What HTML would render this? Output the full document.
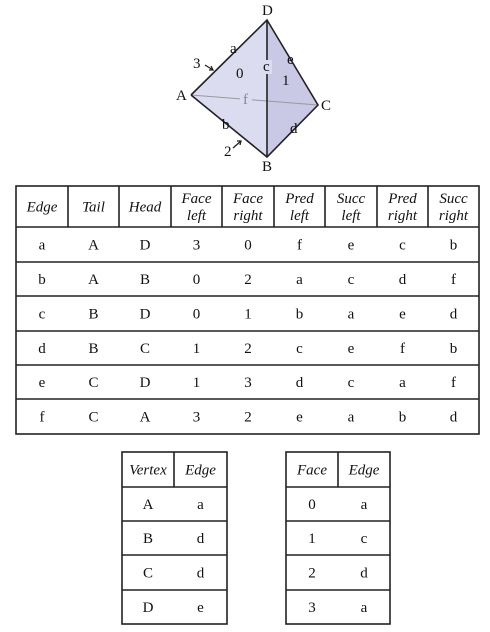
<!DOCTYPE html>
<html><head><meta charset="utf-8"><style>
html,body{margin:0;padding:0;background:#fff;width:490px;height:632px;overflow:hidden}
svg{display:block}
text{font-family:"Liberation Serif",serif;fill:#111}
.h{font-style:italic;font-size:15px}
.c{font-size:15px}
</style></head><body>
<svg width="490" height="632">
<g>
<polygon points="191,95 267,20 267,157" fill="#dcdcf0"/>
<polygon points="267,20 318,105 267,157" fill="#c9c9e6"/>
<line x1="191" y1="95" x2="318" y2="105" stroke="#999" stroke-width="1"/>
<polyline points="191,95 267,20 318,105 267,157 191,95" fill="none" stroke="#222" stroke-width="1.6"/>
<line x1="267" y1="20" x2="267" y2="157" stroke="#222" stroke-width="1.6"/>
<rect x="262" y="60" width="10" height="14" fill="#dcdcf0"/>
<rect x="240" y="93" width="12" height="13" fill="#dcdcf0"/>
<text x="262" y="15" class="c">D</text>
<text x="176" y="100" class="c">A</text>
<text x="321" y="110" class="c">C</text>
<text x="262" y="171" class="c">B</text>
<text x="230" y="53" class="c">a</text>
<text x="263" y="71" class="c">c</text>
<text x="287" y="64" class="c">e</text>
<text x="243" y="104" class="c" style="fill:#888">f</text>
<text x="222" y="129" class="c">b</text>
<text x="290" y="133" class="c">d</text>
<text x="236" y="78" class="c">0</text>
<text x="282" y="85" class="c">1</text>
<text x="193" y="68" class="c">3</text>
<text x="224" y="156" class="c">2</text>
<path d="M205,65 L213,70 M209,70 L213,70 L211,66" stroke="#222" fill="none" stroke-width="1.3"/>
<path d="M233,148 L241,141 M237,141 L241,141 L240,145" stroke="#222" fill="none" stroke-width="1.3"/>
</g>
<g id="main"></g>
<g id="vt"></g>
<g id="ft"></g>
</svg>
<script>
const NS="http://www.w3.org/2000/svg";
function el(p,t,a,txt){const e=document.createElementNS(NS,t);for(const k in a)e.setAttribute(k,a[k]);if(txt!==undefined)e.textContent=txt;p.appendChild(e);return e;}
function table(g,xs,ys,headers,rows){
  const x0=xs[0],x1=xs[xs.length-1],y0=ys[0],y1=ys[ys.length-1];
  el(g,'rect',{x:x0,y:y0,width:x1-x0,height:y1-y0,fill:'none',stroke:'#222','stroke-width':1.6});
  ys.slice(1,-1).forEach(y=>el(g,'line',{x1:x0,x2:x1,y1:y,y2:y,stroke:'#222','stroke-width':1.6}));
  xs.slice(1,-1).forEach(x=>el(g,'line',{x1:x,x2:x,y1:y0,y2:ys[1],stroke:'#222','stroke-width':1.6}));
  headers.forEach((h,i)=>{const cx=(xs[i]+xs[i+1])/2,cy=(ys[0]+ys[1])/2;
    const lines=h.split(' ');
    lines.forEach((l,j)=>{const t=el(g,'text',{x:cx,y:cy+5+(j-(lines.length-1)/2)*17,'text-anchor':'middle',class:'h'},l);
      
      });});
  rows.forEach((r,ri)=>r.forEach((v,i)=>{const cx=(xs[i]+xs[i+1])/2,cy=(ys[ri+1]+ys[ri+2])/2;
    const t=el(g,'text',{x:cx,y:cy+5,'text-anchor':'middle',class:'c'},v);
    
    }));
}
table(document.getElementById('main'),[16,68,119,171,222,274,325,377,428,479],[186,227,262,296,331,365,399,434],
 ['Edge','Tail','Head','Face left','Face right','Pred left','Succ left','Pred right','Succ right'],
 [['a','A','D','3','0','f','e','c','b'],['b','A','B','0','2','a','c','d','f'],['c','B','D','0','1','b','a','e','d'],
  ['d','B','C','1','2','c','e','f','b'],['e','C','D','1','3','d','c','a','f'],['f','C','A','3','2','e','a','b','d']]);
table(document.getElementById('vt'),[122,174,227],[452,487,521,555,590,624],['Vertex','Edge'],
 [['A','a'],['B','d'],['C','d'],['D','e']]);
table(document.getElementById('ft'),[286,338,390],[452,487,521,555,590,624],['Face','Edge'],
 [['0','a'],['1','c'],['2','d'],['3','a']]);
</script>
</body></html>
